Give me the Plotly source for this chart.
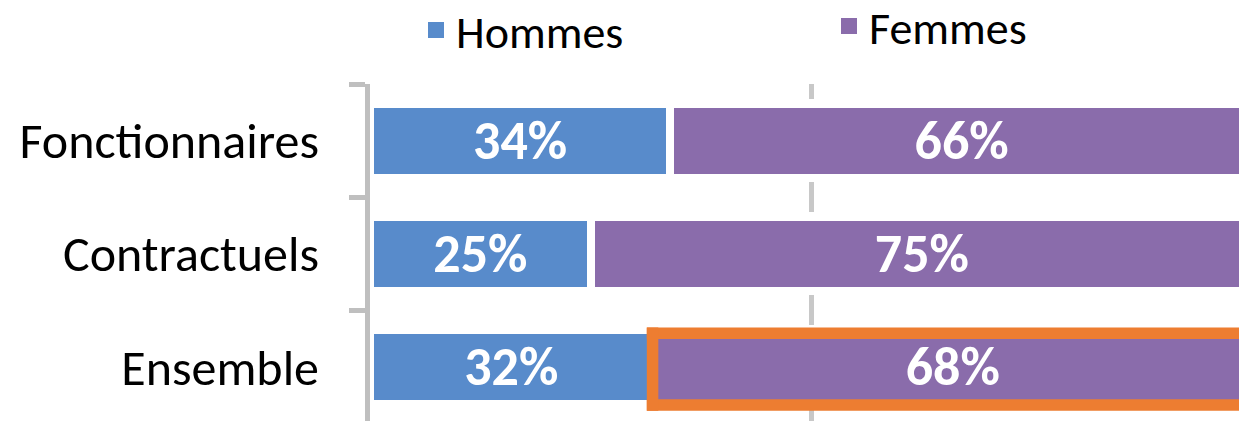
import plotly.graph_objects as go

# ---- data ----
categories = ["Fonctionnaires", "Contractuels", "Ensemble"]
hommes = [34, 25, 32]
femmes = [66, 75, 68]
series_names = ["Hommes", "Femmes"]

# ---- style ----
BLUE = "#588BCB"
PURPLE = "#8A6CAB"
ORANGE = "#ED7D31"
GRAY = "#BFBFBF"
FONT = "Carlito, Calibri, Lato, sans-serif"

W, H = 1239, 421
ML, MT = 370, 84
px_per_pct = 8.83
cat_px = (H - MT) / (2.502 + 0.476)

fig = go.Figure()

for name, vals, col in [(series_names[0], hommes, BLUE), (series_names[1], femmes, PURPLE)]:
    fig.add_trace(go.Bar(
        y=categories, x=vals, orientation="h", name=name,
        marker=dict(color=col, line=dict(color="white", width=8)),
        text=[f"{v}%" for v in vals], textposition="inside",
        insidetextanchor="middle", textangle=0,
        textfont=dict(family=FONT, size=54, color="white", weight="bold"),
        constraintext="none", showlegend=False, hoverinfo="skip",
    ))

# legend entries (one legend per series, positioned like the original)
fig.add_trace(go.Scatter(x=[None], y=[None], mode="markers", name=series_names[0],
                         marker=dict(symbol="square", size=18, color=BLUE), legend="legend"))
fig.add_trace(go.Scatter(x=[None], y=[None], mode="markers", name=series_names[1],
                         marker=dict(symbol="square", size=18, color=PURPLE), legend="legend2"))

# highlight box around the "Ensemble" Femmes segment (runs off the right edge)
cat_order = categories[::-1]
ens = categories.index("Ensemble")
ens_pos = cat_order.index("Ensemble")
lw = 11.5
bx0 = hommes[ens]
bx1 = hommes[ens] + femmes[ens] + 10
by0, by1 = ens_pos - 0.335, ens_pos + 0.30
hx = (lw / 2) / px_per_pct
hy = (lw / 2) / cat_px
box_line = dict(color=ORANGE, width=lw)
fig.add_shape(type="line", xref="x", yref="y", x0=bx0 - hx, x1=bx1, y0=by1, y1=by1, line=box_line)
fig.add_shape(type="line", xref="x", yref="y", x0=bx0 - hx, x1=bx1, y0=by0, y1=by0, line=box_line)
fig.add_shape(type="line", xref="x", yref="y", x0=bx0, x1=bx0, y0=by0 - hy, y1=by1 + hy, line=box_line)

legend_common = dict(orientation="h", xref="container", yref="container",
                     yanchor="middle", xanchor="left", itemsizing="trace",
                     font=dict(family=FONT, size=46, color="black"),
                     bgcolor="rgba(0,0,0,0)", borderwidth=0)

fig.update_layout(
    width=W, height=H,
    margin=dict(l=ML, r=0, t=MT, b=0, pad=0),
    paper_bgcolor="white", plot_bgcolor="white",
    barmode="stack", bargap=0.346,
    font=dict(family=FONT, color="black"),
    legend=dict(x=416 / W, y=1 - 30 / H, **legend_common),
    legend2=dict(x=829 / W, y=1 - 26 / H, **legend_common),
    xaxis=dict(range=[0, (W - ML) / px_per_pct], showticklabels=False, zeroline=False,
               showline=False, ticks="", tickmode="array", tickvals=[50],
               showgrid=True, gridcolor="#C8C8C8", gridwidth=5,
               griddash="15px,83px,15px,0px", fixedrange=True),
    yaxis=dict(type="category", categoryorder="array", categoryarray=cat_order,
               range=[-0.476, 2.502], showline=True, linecolor=GRAY, linewidth=5,
               ticks="outside", tickson="boundaries", ticklen=16, tickwidth=5,
               tickcolor=GRAY, tickfont=dict(family=FONT, size=50, color="black"),
               ticklabelstandoff=36, showgrid=False, zeroline=False, fixedrange=True),
)

fig.write_html("out.html", config={"displayModeBar": False},
               post_script="document.body.style.margin='0';document.body.style.overflow='hidden';")
